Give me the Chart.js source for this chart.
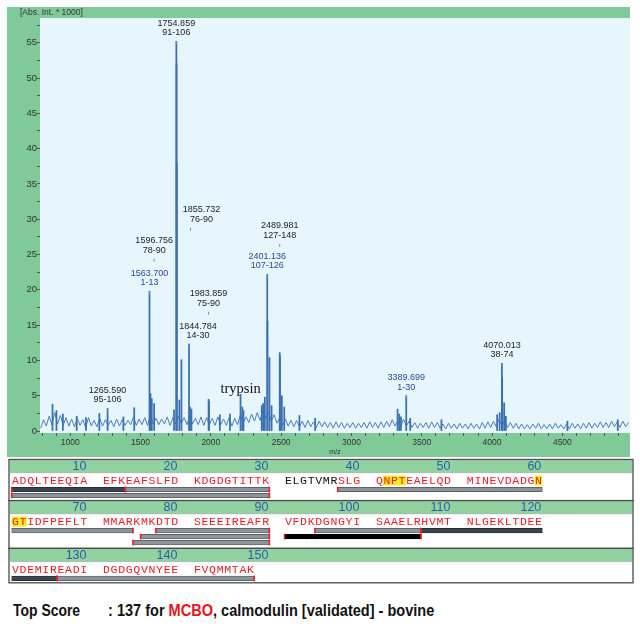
<!DOCTYPE html>
<html><head><meta charset="utf-8">
<script src="https://cdn.jsdelivr.net/npm/chart.js@4/dist/chart.umd.min.js"></script>
<style>
html,body{margin:0;padding:0;background:#fff;width:640px;height:630px;overflow:hidden;}
#spec{position:absolute;left:7px;top:7px;}
#cov{position:absolute;left:8px;top:458px;}
.score{position:absolute;top:601px;font-family:"Liberation Sans",Arial,sans-serif;font-weight:bold;font-size:17px;color:#111;white-space:nowrap;transform-origin:0 0;}
</style></head><body>
<canvas id="spec" width="623" height="450"></canvas>
<canvas id="cov" width="626" height="127"></canvas>
<div class="score" style="left:13px;transform:scaleX(0.82)">Top Score</div>
<div class="score" style="left:108px;transform:scaleX(0.855)">: 137 for <span style="color:#e8141e">MCBO</span>, calmodulin [validated] - bovine</div>
<script>
// ================= DATA =================
// MALDI spectrum: baseline noise sampled every 20 Da from 790 Da
const noiseStartMz = 790;
const noiseStepMz = 20;
const noiseIntensity = [
  0.4,1.6,0.7,2.1,0.9,2.6,1.0,2.2,0.8,1.9,0.7,
  1.7,0.6,1.8,0.8,1.6,0.5,1.9,0.7,1.5,0.6,
  1.8,0.7,1.6,0.8,1.5,0.6,1.7,0.7,1.6,0.8,
  1.5,0.9,2.0,0.8,1.7,0.9,1.9,0.8,2.2,1.0,
  1.8,0.9,1.7,1.0,2.0,0.8,1.9,1.0,2.1,1.1,
  1.9,0.9,2.2,1.0,1.8,0.9,2.0,0.8,1.9,0.9,
  1.8,0.8,2.0,0.9,1.7,0.8,1.9,0.7,1.8,0.9,
  2.3,1.1,2.0,1.2,2.4,1.4,2.6,1.5,2.9,1.8,
  2.7,1.4,2.3,1.1,1.9,0.8,1.7,0.7,1.5,0.6,
  1.5,0.6,1.4,0.5,1.5,0.6,1.3,0.5,1.4,0.6,
  1.3,0.5,1.2,0.4,1.3,0.5,1.2,0.4,1.1,0.5,
  1.2,0.4,1.1,0.5,1.2,0.4,1.3,0.5,1.2,0.4,
  1.3,0.5,1.4,0.6,1.6,0.7,1.5,0.6,1.7,0.7,
  1.4,0.5,1.2,0.4,1.1,0.5,1.2,0.4,1.3,0.5,
  1.2,0.4,1.0,0.3,1.1,0.4,1.0,0.3,1.1,0.4,
  1.0,0.3,1.1,0.4,1.0,0.3,1.2,0.4,1.3,0.5,
  1.4,0.6,1.7,0.7,1.5,0.5,1.2,0.4,1.1,0.3,
  1.0,0.3,0.9,0.3,1.0,0.4,1.1,0.3,0.9,0.3,
  1.0,0.3,1.1,0.4,0.9,0.3,1.0,0.3,1.1,0.4,
  1.0,0.3,1.1,0.4,1.2,0.4,1.1,0.5,1.3,0.5,
  1.2,0.5,1.4,0.6,1.3,0.5,1.4,0.6,1.2
];
// Peaks (m/z, intensity x1000)
const peakMz = [874,902,948,1046,1112,1207,1265.59,1378,1455,1563.70,1571,1580,1596.756,1738,
  1754.859,1756.2,1757.6,1776,1790.9,1844.784,1852,1862,1983.859,1987,2064,2136,2211.1,2224,2232,
  2362,2372,2384,2401.136,2403,2417,2432,2489.981,2491.6,2505,2522,2630,2742,
  3328,3340,3352,3389.699,3418,3640,4036,4054,4070.013,4071.8,4086,4098,4536,4894];
const peakIntensity = [3.8,2.9,2.4,2.1,1.9,2.5,3.2,2.0,3.3,19.8,5.3,4.6,3.9,3.0,
  55.2,52.0,38.0,4.4,10.1,12.3,3.4,3.1,4.5,4.2,2.3,2.4,5.2,3.4,2.9,
  3.6,3.9,4.8,22.2,15.5,10.4,3.6,11.1,10.6,5.0,3.4,2.2,1.8,
  3.1,2.4,2.0,5.0,1.8,1.6,2.3,2.6,9.6,7.6,4.0,2.1,1.4,1.6];
// Annotated peaks
const labelMz = [1754.859,1855.732,2489.981,1596.756,2401.136,1563.700,1983.859,1844.784,1265.590,3389.699,4070.013];
const labelPeptide = ['91-106','76-90','127-148','78-90','107-126','1-13','75-90','14-30','95-106','1-30','38-74'];
const labelAnchor = [55.2,28.8,26.5,24.4,22.2,19.8,16.9,12.3,3.2,5.0,9.6];
const labelBlue = [false,false,false,false,true,true,false,false,false,true,false];
const trypsinMz = 2211.1, trypsinAnchor = 5.2;
const xRange = [785, 4981], yRange = [-0.28, 58.5];
const xTickStep = 100, xLabelStep = 500;
const yTickStep = 2.5, yLabelStep = 5;

// Sequence coverage
const sequenceGroups = ['ADQLTEEQIA','EFKEAFSLFD','KDGDGTITTK','ELGTVMRSLG','QNPTEAELQD','MINEVDADGN',
  'GTIDFPEFLT','MMARKMKDTD','SEEEIREAFR','VFDKDGNGYI','SAAELRHVMT','NLGEKLTDEE',
  'VDEMIREADI','DGDGQVNYEE','FVQMMTAK'];
const peptideStart = [1,14,1,38,75,76,78,91,95,107,127];
const peptideEnd   = [13,30,30,74,90,90,90,106,106,126,148];
const peptideLane  = [1,1,2,1,3,2,1,2,1,1,1];
const peptideShade = ['dark','gray','gray','gray','gray','gray','gray','black','gray','dark','gray'];
const highlightResidues = [42,43,44,60,61,62];

// ================= STYLE / LAYOUT =================
const GREEN = '#80ca99', PANEL_GREEN = '#92d2a1', PLOT_BG = '#e7f5fd';
const LINE_BLUE = '#4a7fbd', PEAK_BLUE = '#3a6fb0';
const LBL_BLACK = '#1e1e1e', LBL_BLUE = '#2b4a9c';
const LABEL_SHIFT = {1: 11, 7: 9};
const SANS = '"Liberation Sans", Arial, sans-serif';

const stepTicks = (min, max, step) => {
  const out = [];
  for (let k = Math.ceil(min / step - 1e-9); k * step <= max + 1e-9; k++) out.push({value: +(k * step).toFixed(6)});
  return out;
};
const onStep = (v, s) => Math.abs(v / s - Math.round(v / s)) < 1e-6;

const framePlugin = {
  id: 'frame',
  beforeDraw(chart) {
    const {ctx, chartArea: a} = chart;
    ctx.save();
    ctx.fillStyle = GREEN; ctx.fillRect(0, 0, chart.width, chart.height);
    ctx.fillStyle = PLOT_BG; ctx.fillRect(a.left, a.top, a.right - a.left, a.bottom - a.top);
    ctx.fillStyle = '#333'; ctx.font = '8.5px ' + SANS;
    ctx.textAlign = 'left'; ctx.textBaseline = 'middle';
    ctx.fillText('[Abs. Int. * 1000]', 13, 6);
    ctx.restore();
  }
};
const labelPlugin = {
  id: 'peaklabels',
  afterDatasetsDraw(chart) {
    const {ctx, scales: {x, y}} = chart;
    ctx.save();
    ctx.font = '9px ' + SANS; ctx.textAlign = 'center'; ctx.textBaseline = 'middle';
    labelMz.forEach((mz, i) => {
      const px = x.getPixelForValue(mz), py = y.getPixelForValue(labelAnchor[i]);
      ctx.fillStyle = '#7c8ea6'; ctx.fillRect(px - 0.5, py, 1, 3);
      const tx = px + (LABEL_SHIFT[i] || 0);
      ctx.fillStyle = labelBlue[i] ? LBL_BLUE : LBL_BLACK;
      ctx.fillText(mz.toFixed(3), tx, py - 18);
      ctx.fillText(labelPeptide[i], tx, py - 8.5);
    });
    ctx.font = '14.5px "Liberation Serif", "DejaVu Serif", serif';
    ctx.fillStyle = '#111';
    ctx.fillText('trypsin', x.getPixelForValue(trypsinMz), y.getPixelForValue(trypsinAnchor) - 5);
    ctx.restore();
  }
};

new Chart(document.getElementById('spec'), {
  type: 'bar',
  data: { datasets: [
    { type: 'line', data: noiseIntensity.map((v, i) => ({x: noiseStartMz + i * noiseStepMz, y: v})),
      borderColor: LINE_BLUE, borderWidth: 1, pointRadius: 0, tension: 0, order: 2 },
    { type: 'bar', data: peakMz.map((m, i) => ({x: m, y: peakIntensity[i]})),
      backgroundColor: PEAK_BLUE, barThickness: 1.1, grouped: false, order: 1 }
  ]},
  options: {
    responsive: false, animation: false, events: [],
    layout: { padding: { top: 11, left: 0, right: 0, bottom: 0 } },
    plugins: { legend: { display: false }, tooltip: { enabled: false } },
    scales: {
      x: { type: 'linear', min: xRange[0], max: xRange[1], offset: false,
        afterBuildTicks: s => { s.ticks = stepTicks(xRange[0], xRange[1], xTickStep); },
        afterFit: s => { s.height = 24; },
        ticks: { autoSkip: false, maxRotation: 0, padding: 2, color: '#333',
          font: { size: 8.5, family: SANS },
          callback: v => onStep(v, xLabelStep) ? String(v) : '' },
        grid: { drawOnChartArea: false, drawTicks: true, tickLength: 3, color: '#555', offset: false },
        border: { display: false },
        title: { display: true, text: 'm/z', color: '#333', font: { size: 7, family: SANS }, padding: { top: 0, bottom: 1 } }
      },
      y: { type: 'linear', min: yRange[0], max: yRange[1],
        afterBuildTicks: s => { s.ticks = stepTicks(0, yRange[1], yTickStep); },
        afterFit: s => { s.width = 33; },
        ticks: { autoSkip: false, padding: 0, color: '#333',
          font: { size: 9.5, family: SANS },
          callback: v => onStep(v, yLabelStep) ? String(Math.round(v)) : '' },
        grid: { drawOnChartArea: false, drawTicks: true, tickLength: 3, color: '#555' },
        border: { display: false }
      }
    }
  },
  plugins: [framePlugin, labelPlugin]
});

// ---------- coverage panel ----------
const sequence = sequenceGroups.join('');
const cellOf = r => { const p = (r - 1) % 60; return Math.floor(p / 10) * 12 + p % 10; };
const rowOf = r => Math.floor((r - 1) / 60);
const nRows = Math.ceil(sequence.length / 60);
const covered = new Array(sequence.length + 1).fill(false);
peptideStart.forEach((s, i) => { for (let r = s; r <= peptideEnd[i]; r++) covered[r] = true; });
const rowLanes = new Array(nRows).fill(1);
const rawSegs = [];
peptideStart.forEach((s, i) => {
  const e = peptideEnd[i];
  for (let row = rowOf(s); row <= rowOf(e); row++) {
    const a = Math.max(s, row * 60 + 1), b = Math.min(e, row * 60 + 60);
    rowLanes[row] = Math.max(rowLanes[row], peptideLane[i]);
    rawSegs.push({row, lane: peptideLane[i], x0: cellOf(a), x1: cellOf(b) + 1, shade: peptideShade[i],
      tickStart: a === s, tickEnd: b === e});
  }
});
const blockTop = [];
let acc = 1.5;
rowLanes.forEach(n => { blockTop.push(acc); acc += 27.7 + 6.7 * n; });
const blockH = rowLanes.map(n => 27.7 + 6.7 * n);
const laneY = (row, lane) => blockTop[row] + 30 + 6 * (lane - 1);
const SHADE = { gray: ['#8d949a', '#4f555a'], dark: ['#3c454d', '#22282d'], black: ['#000', '#000'] };
const CELL_PX = 7.58, CELL0_PX = 3.7, PANEL_W = 626, PANEL_H = 127;

const panelPlugin = {
  id: 'panel',
  beforeDatasetsDraw(chart) {
    const {ctx, scales: {x, y}} = chart;
    ctx.save();
    rowLanes.forEach((n, row) => {
      const top = y.getPixelForValue(blockTop[row]), bot = y.getPixelForValue(blockTop[row] + blockH[row]);
      const hb = y.getPixelForValue(blockTop[row] + 13.2);
      ctx.fillStyle = PANEL_GREEN; ctx.fillRect(1.7, top + 0.7, 622.6, hb - top - 0.7);
      ctx.strokeStyle = '#4a4a4a'; ctx.lineWidth = 1.3;
      ctx.strokeRect(1, top, 624, bot - top);
      ctx.beginPath(); ctx.moveTo(1, hb); ctx.lineTo(625, hb);
      ctx.strokeStyle = '#9aa09c'; ctx.lineWidth = 0.6; ctx.stroke();
    });
    ctx.fillStyle = '#f9ea1c';
    highlightResidues.forEach(r => {
      const row = rowOf(r), c = cellOf(r);
      const x0 = x.getPixelForValue(c), x1 = x.getPixelForValue(c + 1);
      const yc = y.getPixelForValue(blockTop[row] + 21);
      ctx.fillRect(x0, yc - 5, x1 - x0, 10);
    });
    ctx.font = '12.5px ' + SANS; ctx.textAlign = 'right'; ctx.textBaseline = 'middle'; ctx.fillStyle = '#2a5fa6';
    const lastNumber = Math.ceil(sequence.length / 10) * 10;
    for (let r = 10; r <= lastNumber; r += 10) {
      const row = rowOf(r), c = cellOf(r);
      ctx.fillText(String(r), x.getPixelForValue(c + 1) - 1, y.getPixelForValue(blockTop[row] + 7.2));
    }
    ctx.font = '11.5px "Liberation Mono", "DejaVu Sans Mono", monospace'; ctx.textAlign = 'center';
    for (let r = 1; r <= sequence.length; r++) {
      const row = rowOf(r), c = cellOf(r);
      ctx.fillStyle = covered[r] ? '#e61e2d' : '#111';
      ctx.fillText(sequence[r - 1], x.getPixelForValue(c + 0.5), y.getPixelForValue(blockTop[row] + 21.5));
    }
    ctx.restore();
  },
  afterDatasetsDraw(chart) {
    const {ctx, scales: {x, y}} = chart;
    ctx.save(); ctx.fillStyle = '#e8202a';
    rawSegs.forEach(s => {
      const yc = y.getPixelForValue(laneY(s.row, s.lane));
      if (s.tickStart) ctx.fillRect(x.getPixelForValue(s.x0) - 0.8, yc - 2.8, 1.6, 5.6);
      if (s.tickEnd) ctx.fillRect(x.getPixelForValue(s.x1) - 0.8, yc - 2.8, 1.6, 5.6);
    });
    ctx.restore();
  }
};
const xMinCell = -CELL0_PX / CELL_PX;
new Chart(document.getElementById('cov'), {
  type: 'bar',
  data: { datasets: [{
    data: rawSegs.map(s => ({x: [s.x0, s.x1], y: laneY(s.row, s.lane)})),
    backgroundColor: rawSegs.map(s => SHADE[s.shade][0]),
    borderColor: rawSegs.map(s => SHADE[s.shade][1]),
    borderWidth: 0.8, borderSkipped: false, barThickness: 4.5, grouped: false
  }]},
  options: {
    indexAxis: 'y', responsive: false, animation: false, events: [],
    layout: { padding: 0, autoPadding: false },
    plugins: { legend: { display: false }, tooltip: { enabled: false } },
    scales: {
      x: { type: 'linear', min: xMinCell, max: xMinCell + PANEL_W / CELL_PX, display: false, offset: false },
      y: { type: 'linear', min: 0, max: PANEL_H, reverse: true, display: false, offset: false }
    }
  },
  plugins: [panelPlugin]
});
</script>
</body></html>
